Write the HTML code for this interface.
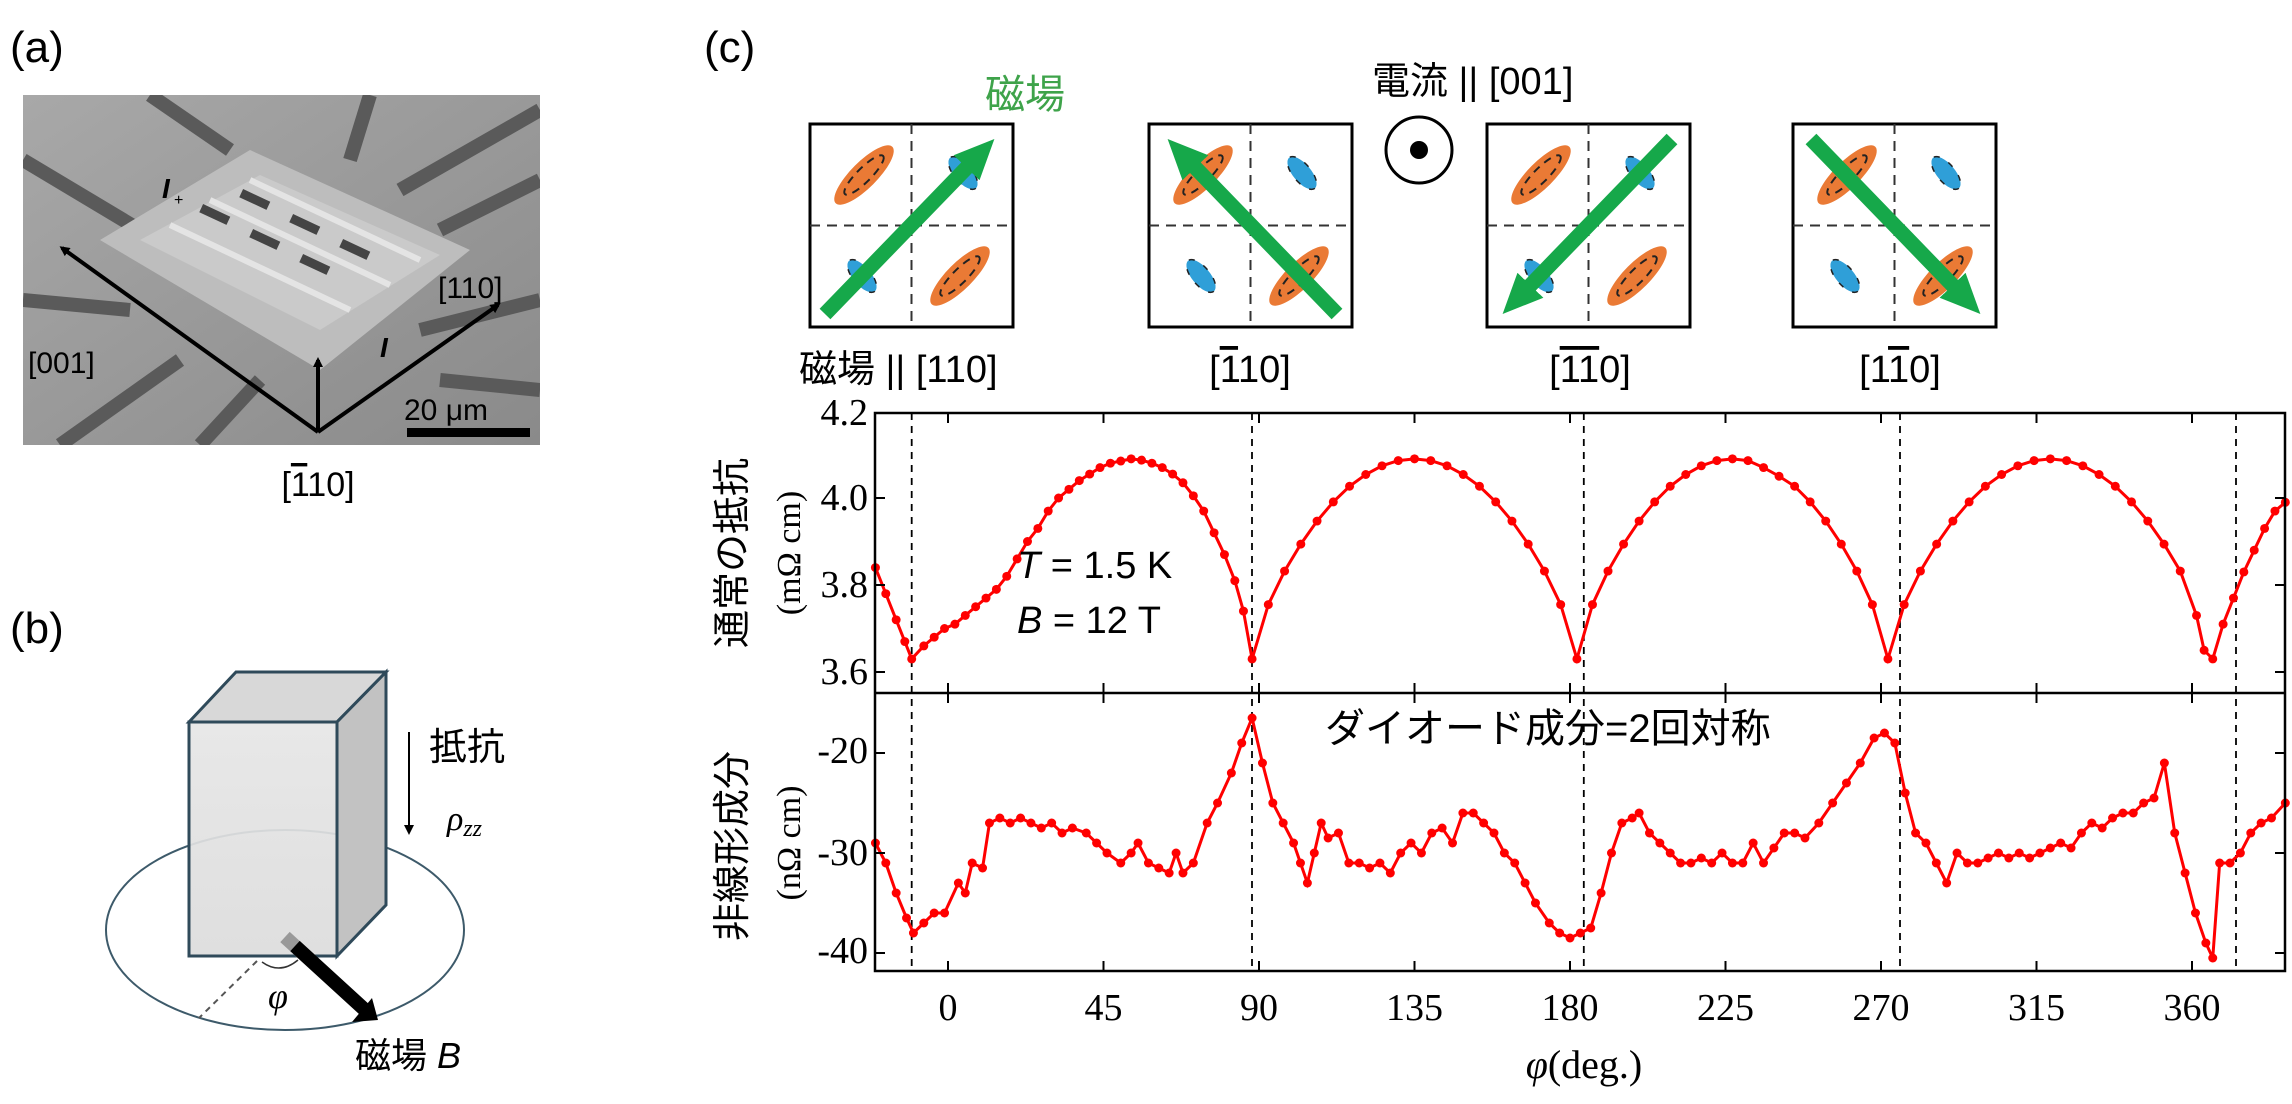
<!DOCTYPE html>
<html><head><meta charset="utf-8">
<style>
html,body{margin:0;padding:0;background:#fff;}
svg{display:block;}
.jp{font-family:"Liberation Sans","Noto Sans CJK JP",sans-serif;}
.sf{font-family:"Liberation Serif","Noto Serif CJK SC",serif;}
.ov{text-decoration:overline;}
</style></head>
<body>
<svg width="2292" height="1104" viewBox="0 0 2292 1104" xmlns="http://www.w3.org/2000/svg">
<defs>
<linearGradient id="semg" x1="0" y1="0" x2="1" y2="1">
<stop offset="0" stop-color="#a8a8a8"/><stop offset="1" stop-color="#8a8a8a"/></linearGradient>
<linearGradient id="boxg" x1="0" y1="0" x2="0" y2="1">
<stop offset="0" stop-color="#e6e6e6"/><stop offset="1" stop-color="#dcdcdc"/></linearGradient>
<clipPath id="semclip"><rect x="23" y="95" width="517" height="350"/></clipPath>
<marker id="ah" markerWidth="10" markerHeight="10" refX="7" refY="5" orient="auto" markerUnits="userSpaceOnUse"><path d="M0,0 L10,5 L0,10z" fill="#000"/></marker>
<marker id="gh" markerWidth="40" markerHeight="36" refX="15" refY="18" orient="auto" markerUnits="userSpaceOnUse"><path d="M0,0 L40,18 L0,36z" fill="#16a84a"/></marker>
<marker id="mt" markerWidth="4" markerHeight="4" refX="2" refY="2" markerUnits="userSpaceOnUse" viewBox="0 0 4 4" overflow="visible"><ellipse cx="2" cy="2" rx="1.3" ry="1.03" fill="#f00"/></marker>
<marker id="mb" markerWidth="4" markerHeight="4" refX="2" refY="2" markerUnits="userSpaceOnUse" viewBox="0 0 4 4" overflow="visible"><ellipse cx="2" cy="2" rx="1.3" ry="0.45" fill="#f00"/></marker>
</defs>

<text x="10" y="62" class="jp" font-size="44">(a)</text>
<text x="10" y="643" class="jp" font-size="44">(b)</text>
<text x="704" y="62" class="jp" font-size="44">(c)</text>

<!-- SEM image approximation -->
<g clip-path="url(#semclip)">
<rect x="23" y="95" width="517" height="350" fill="url(#semg)"/>
<g stroke="#5a5a5a" stroke-width="14" fill="none">
<line x1="150" y1="95" x2="230" y2="150"/>
<line x1="370" y1="95" x2="350" y2="160"/>
<line x1="540" y1="110" x2="400" y2="190"/>
<line x1="540" y1="180" x2="440" y2="230"/>
<line x1="23" y1="160" x2="140" y2="230"/>
<line x1="23" y1="300" x2="130" y2="310"/>
<line x1="60" y1="445" x2="180" y2="360"/>
<line x1="200" y1="445" x2="260" y2="380"/>
<line x1="540" y1="300" x2="420" y2="330"/>
<line x1="540" y1="390" x2="440" y2="380"/>
</g>
<polygon points="100,240 250,150 470,250 320,370" fill="#bdbdbd"/>
<polygon points="140,240 260,175 440,255 320,330" fill="#cacaca"/>
<g stroke="#e4e4e4" stroke-width="6">
<line x1="170" y1="225" x2="350" y2="310"/>
<line x1="210" y1="200" x2="390" y2="285"/>
<line x1="250" y1="180" x2="420" y2="260"/>
</g>
<g fill="#444">
<rect x="200" y="210" width="30" height="9" transform="rotate(25 215 214)"/>
<rect x="250" y="235" width="30" height="9" transform="rotate(25 265 239)"/>
<rect x="300" y="260" width="30" height="9" transform="rotate(25 315 264)"/>
<rect x="240" y="195" width="30" height="9" transform="rotate(25 255 199)"/>
<rect x="290" y="220" width="30" height="9" transform="rotate(25 305 224)"/>
<rect x="340" y="245" width="30" height="9" transform="rotate(25 355 249)"/>
</g>
</g>
<g stroke="#000" stroke-width="4" fill="none">
<line x1="318" y1="432" x2="62" y2="248" marker-end="url(#ah)"/>
<line x1="318" y1="432" x2="498" y2="305" marker-end="url(#ah)"/>
<line x1="318" y1="432" x2="318" y2="360" marker-end="url(#ah)"/>
</g>
<rect x="407" y="428" width="123" height="9" fill="#000"/>
<text x="404" y="420" class="jp" font-size="30">20 μm</text>
<text x="28" y="373" class="jp" font-size="30">[001]</text>
<text x="438" y="298" class="jp" font-size="30">[110]</text>
<text x="162" y="198" class="jp" font-size="28" font-weight="bold" font-style="italic">I</text>
<text x="174" y="205" class="jp" font-size="16">+</text>
<text x="380" y="357" class="jp" font-size="28" font-weight="bold" font-style="italic">I</text>
<text x="318" y="496" class="jp" font-size="34" text-anchor="middle">[<tspan class="ov">1</tspan>10]</text>

<!-- panel b -->
<ellipse cx="285" cy="930" rx="179" ry="100" fill="none" stroke="#3d5a6a" stroke-width="2"/>
<polygon points="189,722 236,672 386,672 337,722" fill="#d8d8d8" stroke="#2f4a5a" stroke-width="3"/>
<polygon points="337,722 386,672 386,905 337,956" fill="#c2c2c2" stroke="#2f4a5a" stroke-width="3"/>
<rect x="189" y="722" width="148" height="234" fill="url(#boxg)" fill-opacity="0.92" stroke="#2f4a5a" stroke-width="3"/>
<line x1="257" y1="961" x2="199" y2="1018" stroke="#555" stroke-width="2" stroke-dasharray="6,5"/>
<line x1="285" y1="937" x2="365" y2="1010" stroke="#999" stroke-width="14"/>
<line x1="295" y1="946" x2="365" y2="1010" stroke="#000" stroke-width="14"/>
<polygon points="352,1022 378,1020 372,998" fill="#000"/>
<path d="M262,962 Q280,975 298,960" fill="none" stroke="#333" stroke-width="1.5"/>
<text x="268" y="1008" class="sf" font-size="36" font-style="italic">φ</text>
<text x="355" y="1068" class="jp" font-size="36">磁場 <tspan font-style="italic">B</tspan></text>
<line x1="409" y1="732" x2="409" y2="832" stroke="#000" stroke-width="2" marker-end="url(#ah)"/>
<text x="429" y="760" class="jp" font-size="38">抵抗</text>
<text x="447" y="830" class="sf" font-size="34" font-style="italic">ρ<tspan font-size="24" dy="6">zz</tspan></text>

<!-- panel c diagrams -->
<text x="985" y="108" class="jp" font-size="40" fill="#3ea34a">磁場</text>
<text x="1372" y="94" class="jp" font-size="38">電流 || [001]</text>
<circle cx="1419" cy="150" r="33" fill="none" stroke="#000" stroke-width="3"/>
<circle cx="1419" cy="150" r="9" fill="#000"/>

<g id="box1">
<rect x="810" y="124" width="203" height="203" fill="#fff" stroke="#000" stroke-width="3"/>
<line x1="911.5" y1="124" x2="911.5" y2="327" stroke="#333" stroke-width="2" stroke-dasharray="10,7"/>
<line x1="810" y1="225.5" x2="1013" y2="225.5" stroke="#333" stroke-width="2" stroke-dasharray="10,7"/>
</g>
<use href="#box1" x="339"/>
<use href="#box1" x="677"/>
<use href="#box1" x="983"/>
<g id="blobs1">
<ellipse cx="864" cy="175" rx="40" ry="13" fill="#ea7a35" transform="rotate(-45 864 175)"/>
<ellipse cx="864" cy="175" rx="27" ry="7" fill="none" stroke="#222" stroke-width="2" stroke-dasharray="8,6" transform="rotate(-45 864 175)"/>
<ellipse cx="960" cy="276" rx="40" ry="13" fill="#ea7a35" transform="rotate(-45 960 276)"/>
<ellipse cx="960" cy="276" rx="27" ry="7" fill="none" stroke="#222" stroke-width="2" stroke-dasharray="8,6" transform="rotate(-45 960 276)"/>
<ellipse cx="963" cy="173" rx="20" ry="9" fill="#2f9fd8" stroke="#222" stroke-width="1.5" stroke-dasharray="6,10" transform="rotate(50 963 173)"/>
<ellipse cx="862" cy="276" rx="20" ry="9" fill="#2f9fd8" stroke="#222" stroke-width="1.5" stroke-dasharray="6,10" transform="rotate(50 862 276)"/>
</g>
<use href="#blobs1" x="339"/>
<use href="#blobs1" x="677"/>
<use href="#blobs1" x="983"/>
<g stroke="#16a84a" stroke-width="15">
<line x1="825" y1="314" x2="977" y2="157" marker-end="url(#gh)"/>
<line x1="1337" y1="314" x2="1185" y2="157" marker-end="url(#gh)"/>
<line x1="1672" y1="139" x2="1520" y2="296" marker-end="url(#gh)"/>
<line x1="1811" y1="139" x2="1963" y2="296" marker-end="url(#gh)"/>
</g>
<text x="799" y="382" class="jp" font-size="38">磁場 || [110]</text>
<text x="1250" y="382" class="jp" font-size="38" text-anchor="middle">[<tspan class="ov">1</tspan>10]</text>
<text x="1590" y="382" class="jp" font-size="38" text-anchor="middle">[<tspan class="ov">1</tspan><tspan class="ov">1</tspan>0]</text>
<text x="1900" y="382" class="jp" font-size="38" text-anchor="middle">[1<tspan class="ov">1</tspan>0]</text>

<!-- dashed verticals -->
<g stroke="#000" stroke-width="1.8" stroke-dasharray="7,6">
<line x1="911.7" y1="413" x2="911.7" y2="971"/>
<line x1="1252" y1="413" x2="1252" y2="971"/>
<line x1="1583.8" y1="413" x2="1583.8" y2="971"/>
<line x1="1900" y1="413" x2="1900" y2="971"/>
<line x1="2236" y1="413" x2="2236" y2="971"/>
</g>

<!-- top data: x=deg, y=(rho-4.0)*100 -->
<g transform="translate(948,498) scale(3.4556,-4.35)">
<polyline fill="none" stroke="#f00" stroke-width="3" vector-effect="non-scaling-stroke" marker-start="url(#mt)" marker-mid="url(#mt)" marker-end="url(#mt)" points="-21,-16 -18,-22 -15,-28 -12.5,-33 -10.5,-37 -7,-34 -4,-32 -1,-30 2,-29 5,-27 8,-25 11,-23 14,-21 17,-18 20,-14 23,-10 26,-7 29,-3 32,0 35,2 38,4 41,5.5 44,7 47,8 50,8.5 53,9 56,8.7 59,8 62,7 65,5.5 68,3.5 71,0.5 74,-3 77,-8 80,-13 83,-19 85.5,-26 88,-37 92.7,-24.5 97.4,-16.8 102.1,-10.6 106.8,-5.3 111.5,-0.9 116.2,2.7 120.9,5.4 125.6,7.4 130.3,8.6 135,9 139.7,8.6 144.4,7.4 149.1,5.4 153.8,2.7 158.5,-0.9 163.2,-5.3 167.9,-10.6 172.6,-16.8 177.3,-24.5 182,-37 186.5,-24.5 191,-16.8 195.5,-10.6 200,-5.3 204.5,-0.9 209,2.7 213.5,5.4 218,7.4 222.5,8.6 227,9 231.5,8.6 236,7 240.5,5 245,2.7 249.5,-0.9 254,-5.3 258.5,-10.6 263,-16.8 267.5,-24.5 272,-37 276.7,-24.5 281.4,-16.8 286.1,-10.6 290.8,-5.3 295.5,-0.9 300.2,2.7 304.9,5.4 309.6,7.4 314.3,8.6 319,9 323.7,8.6 328.4,7.4 333.1,5.4 337.8,2.7 342.5,-0.9 347.2,-5.3 351.9,-10.6 356.6,-16.8 361.3,-27 363.5,-35 366,-37 369,-29 372,-23 375,-17 378,-12 381,-7 384,-3 387,-1"/>
</g>
<!-- bottom data: x=deg, y=value+30 -->
<g transform="translate(948,853) scale(3.4556,-10)">
<polyline fill="none" stroke="#f00" stroke-width="3" vector-effect="non-scaling-stroke" marker-start="url(#mb)" marker-mid="url(#mb)" marker-end="url(#mb)" points="-21,1 -18,-1 -15,-4 -12,-6.5 -10,-8 -7,-7 -4,-6 -1,-6 3,-3 5,-4 7,-1 10,-1.5 12,3 15,3.5 18,3 21,3.5 24,3 27,2.5 30,3 33,2 36,2.5 40,2 43,1 46,0 50,-1 53,0 55,1 58,-1 61,-1.5 64,-2 66,0 68,-2 71,-1 75,3 78,5 82,8 85,11 88,13.5 91,9 94,5 97,3 100,1 102,-1 104,-3 106,0 108,3 110,1.5 113,2 116,-1 119,-1 122,-1.5 125,-1 128,-2 131,0 134,1 137,0 140,2 143,2.5 146,1 149,4 152,4 155,3 158,2 161,0 164,-1 167,-3 170,-5 174,-7 177,-8 180,-8.5 183,-8 186,-7.5 189,-4 192,0 195,3 198,3.5 200,4 203,2 206,1 209,0 212,-1 215,-1 218,-0.5 221,-1 224,0 227,-1 230,-1 233,1 236,-1 239,0.5 242,2 245,2 248,1.5 252,3 256,5 260,7 264,9 268,11.5 271,12 274,11 277,6 280,2 283,1 286,-1 289,-3 292,0 295,-1 298,-1 301,-0.5 304,0 307,-0.5 310,0 313,-0.5 316,0 319,0.5 322,1 325,0.5 328,2 331,3 334,2.5 337,3.5 340,4 343,4 346,5 349,5.5 352,9 355,2 358,-2 361,-6 364,-9 366,-10.5 368,-1 371,-1 374,0 377,2 380,3 383,3.5 387,5"/>
</g>

<!-- frames -->
<g fill="none" stroke="#000" stroke-width="2.5">
<rect x="875" y="413" width="1410" height="558"/>
<line x1="875" y1="693" x2="2285" y2="693"/>
</g>
<g stroke="#000" stroke-width="2">
<path d="M948,413v10M1103.5,413v10M1259,413v10M1414.5,413v10M1570,413v10M1725.5,413v10M1881,413v10M2036.5,413v10M2192,413v10"/>
<path d="M948,683v20M1103.5,683v20M1259,683v20M1414.5,683v20M1570,683v20M1725.5,683v20M1881,683v20M2036.5,683v20M2192,683v20"/>
<path d="M948,971v-10M1103.5,971v-10M1259,971v-10M1414.5,971v-10M1570,971v-10M1725.5,971v-10M1881,971v-10M2036.5,971v-10M2192,971v-10"/>
<path d="M875,498h10M875,585h10M875,672h10M875,753h10M875,853h10M875,953h10"/>
<path d="M2285,498h-10M2285,585h-10M2285,672h-10M2285,753h-10M2285,853h-10M2285,953h-10"/>
</g>
<g class="sf" font-size="38" text-anchor="end">
<text x="868" y="425">4.2</text>
<text x="868" y="510">4.0</text>
<text x="868" y="597">3.8</text>
<text x="868" y="684">3.6</text>
<text x="868" y="763">-20</text>
<text x="868" y="865">-30</text>
<text x="868" y="963">-40</text>
</g>
<g class="sf" font-size="38" text-anchor="middle">
<text x="948" y="1020">0</text>
<text x="1103.5" y="1020">45</text>
<text x="1259" y="1020">90</text>
<text x="1414.5" y="1020">135</text>
<text x="1570" y="1020">180</text>
<text x="1725.5" y="1020">225</text>
<text x="1881" y="1020">270</text>
<text x="2036.5" y="1020">315</text>
<text x="2192" y="1020">360</text>
</g>
<text x="1584" y="1078" class="sf" font-size="40" text-anchor="middle"><tspan font-style="italic">φ</tspan>(deg.)</text>
<text transform="translate(745,553) rotate(-90)" class="jp" font-size="38" text-anchor="middle">通常の抵抗</text>
<text transform="translate(800,553) rotate(-90)" class="sf" font-size="34" text-anchor="middle">(mΩ cm)</text>
<text transform="translate(745,846) rotate(-90)" class="jp" font-size="38" text-anchor="middle">非線形成分</text>
<text transform="translate(800,843) rotate(-90)" class="sf" font-size="34" text-anchor="middle">(nΩ cm)</text>
<text x="1017" y="578" class="jp" font-size="38"><tspan font-style="italic">T</tspan> = 1.5 K</text>
<text x="1017" y="633" class="jp" font-size="38"><tspan font-style="italic">B</tspan> = 12 T</text>
<text x="1325" y="742" class="jp" font-size="40">ダイオード成分=2回対称</text>
</svg>
</body></html>
